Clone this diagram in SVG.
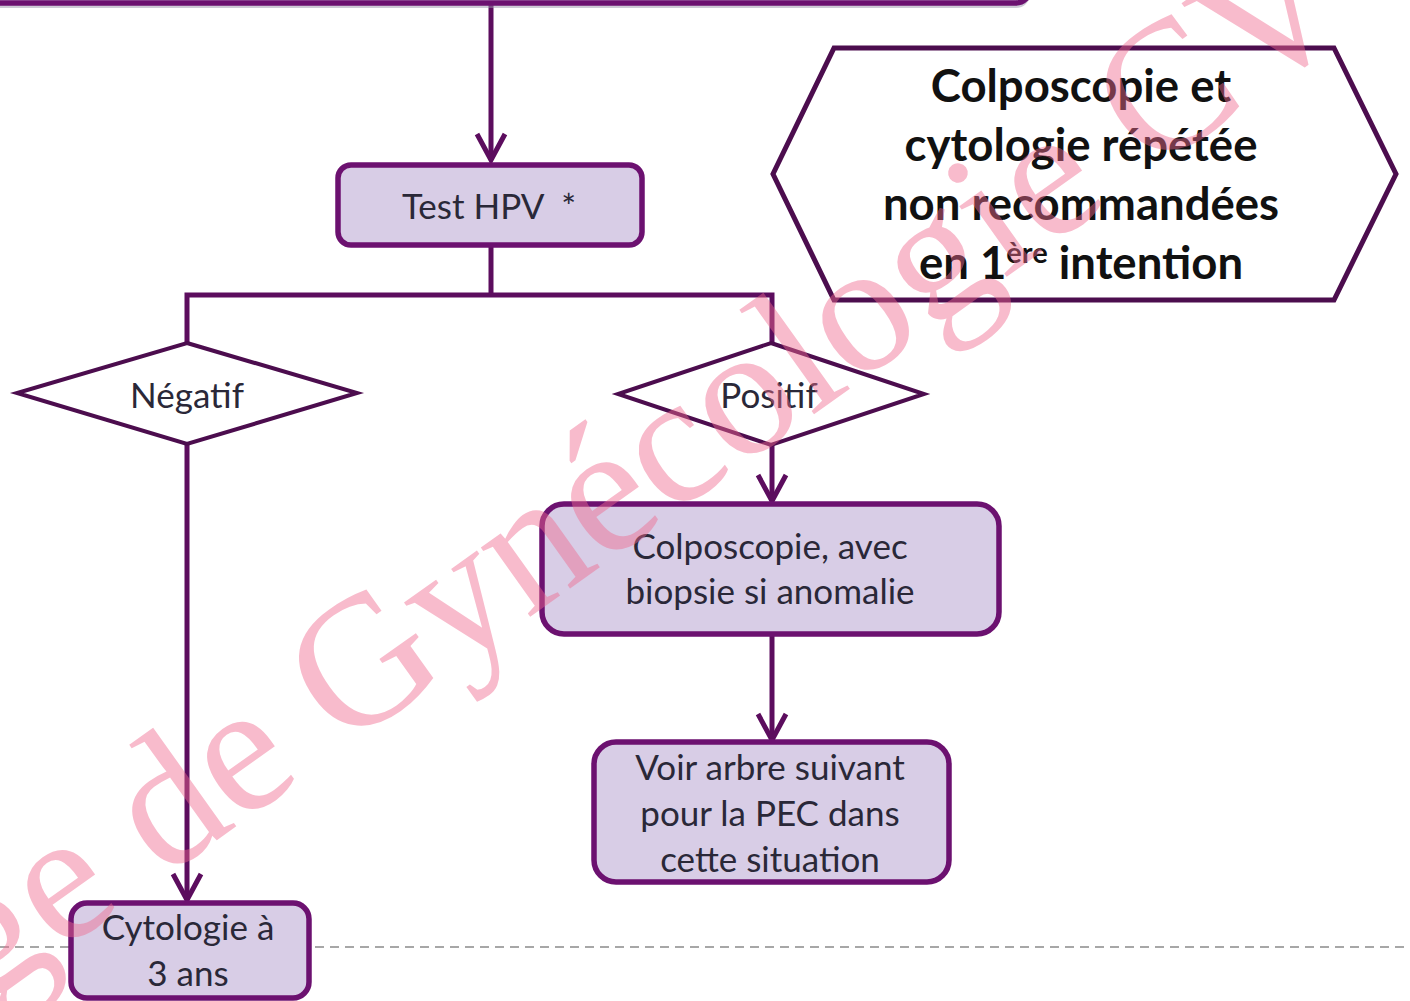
<svg xmlns="http://www.w3.org/2000/svg" width="1410" height="1001" viewBox="0 0 1410 1001">
<defs>
<style>
.box{fill:#d8cde6;stroke:#6c1170;stroke-width:5.5}
.dia{fill:#ffffff;stroke:#4c0d4e;stroke-width:4}
.hex{fill:#ffffff;stroke:#4c0d4e;stroke-width:5}
.con{fill:none;stroke:#5c0d5e;stroke-width:5}
.t{font-family:Lato,"Open Sans","DejaVu Sans",sans-serif;font-size:35px;fill:#2a2838;text-anchor:middle}
.b{font-family:Lato,"Open Sans","DejaVu Sans",sans-serif;font-size:45.5px;font-weight:bold;fill:#111111;text-anchor:middle}
.wm{font-family:"Liberation Serif","Times New Roman",serif;font-size:185px;fill:#f06a8f;opacity:0.45}
</style>
<marker id="ah" markerUnits="userSpaceOnUse" markerWidth="34" markerHeight="34" viewBox="0 0 34 34" refX="30" refY="17" orient="auto">
<path d="M4,3 L30,17 L4,31" fill="none" stroke="#5c0d5e" stroke-width="5"/>
</marker>
</defs>
<rect width="1410" height="1001" fill="#ffffff"/>
<g id="connectors">
<line class="con" x1="491" y1="4" x2="491" y2="160" marker-end="url(#ah)"/>
<line class="con" x1="491" y1="246" x2="491" y2="295"/>
<polyline class="con" points="187,343 187,295 772,295 772,343"/>
<line class="con" x1="187" y1="444" x2="187" y2="900" marker-end="url(#ah)"/>
<line class="con" x1="772" y1="445" x2="772" y2="501" marker-end="url(#ah)"/>
<line class="con" x1="772" y1="636" x2="772" y2="740" marker-end="url(#ah)"/>
<line x1="0" y1="947" x2="1410" y2="947" stroke="#8a8a8a" stroke-width="1.5" stroke-dasharray="9,6"/>
</g>
<g id="top-box">
<rect x="-20" y="-56" width="1050" height="64" rx="14" fill="#9c96ab" opacity="0.5"/>
<rect class="box" x="-20" y="-60" width="1050" height="63" rx="14"/>
</g>
<g id="test-hpv">
<rect class="box" x="338" y="165" width="304" height="80" rx="13"/>
<text class="t" x="489" y="219">Test HPV &#160;*</text>
</g>
<g id="note-hexagon">
<polygon class="hex" points="834,48 1334,48 1396,174 1334,300 834,300 773,174"/>
<text class="b" x="1081" y="102">Colposcopie et</text>
<text class="b" x="1081" y="161">cytologie répétée</text>
<text class="b" x="1081" y="220">non recommandées</text>
<text class="b" x="1081" y="279">en 1<tspan font-size="29px" dy="-16">ère</tspan><tspan dy="16"> intention</tspan></text>
</g>
<g id="negatif">
<polygon class="dia" points="187,343 357,393 187,444 17,393"/>
<text class="t" x="187" y="408">Négatif</text>
</g>
<g id="positif">
<polygon class="dia" points="771,343 924,394 771,445 618,394"/>
<text class="t" x="769" y="408">Positif</text>
</g>
<g id="colposcopie">
<rect class="box" x="542" y="504" width="457" height="130" rx="22"/>
<text class="t" x="770" y="559">Colposcopie, avec</text>
<text class="t" x="770" y="604">biopsie si anomalie</text>
</g>
<g id="voir-arbre">
<rect class="box" x="594" y="742" width="355" height="140" rx="22"/>
<text class="t" x="770" y="780">Voir arbre suivant</text>
<text class="t" x="770" y="826">pour la PEC dans</text>
<text class="t" x="770" y="872">cette situation</text>
</g>
<g id="cytologie">
<rect class="box" x="71" y="903" width="238" height="95" rx="16"/>
<text class="t" x="188" y="940">Cytologie à</text>
<text class="t" x="188" y="986">3 ans</text>
</g>
<text class="wm" x="0" y="0" transform="translate(-17,1007) rotate(-35.5)">ge de Gynécologie CV</text>
</svg>
